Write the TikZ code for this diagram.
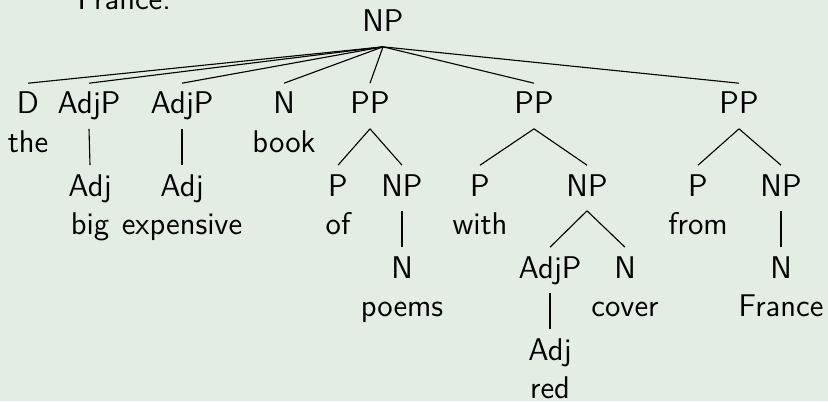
\documentclass[tikz,border=0pt]{standalone}
\usepackage{fontspec}
\definecolor{bgc}{RGB}{228,237,228}
\begin{document}
\begin{tikzpicture}[x=0.35714pt,y=-0.35714pt,
  every node/.style={font=\fontsize{11.2}{13.6}\selectfont\sffamily, inner sep=0pt},
  cat/.style={anchor=base, text height=10.8pt, text depth=5.1pt},
  word/.style={anchor=base},
  edge/.style={draw=black, line width=0.4pt}]
\useasboundingbox[fill=bgc] (0,0) rectangle (828,401);
% clipped caption fragment
\node[anchor=base west] (cap) at (77,10) {France.};
% root
\node[cat] (root) at (383,32) {NP};
% row 1
\node[cat] (d) at (28,114) {D};
\node[word] (wthe) at (28,152) {the};
\node[cat] (adjp1) at (89,114) {AdjP};
\node[cat] (adjp2) at (182,114) {AdjP};
\node[cat] (n1) at (284,114) {N};
\node[word] (wbook) at (284,152) {book};
\node[cat] (pp1) at (370,114) {PP};
\node[cat] (pp2) at (534,114) {PP};
\node[cat] (pp3) at (739,114) {PP};
% row 2
\node[cat] (adj1) at (90,196) {Adj};
\node[word] (wbig) at (90,234) {big};
\node[cat] (adj2) at (182,196) {Adj};
\node[word] (wexp) at (182,234) {expensive};
\node[cat] (p1) at (338,196) {P};
\node[word] (wof) at (338,234) {of};
\node[cat] (np1) at (402,196) {NP};
\node[cat] (p2) at (480,196) {P};
\node[word] (wwith) at (480,234) {with};
\node[cat] (np2) at (587,196) {NP};
\node[cat] (p3) at (698,196) {P};
\node[word] (wfrom) at (698,234) {from};
\node[cat] (np3) at (781,196) {NP};
% row 3
\node[cat] (n2) at (402,278) {N};
\node[word] (wpoems) at (402,316) {poems};
\node[cat] (adjp3) at (550,278) {AdjP};
\node[cat] (n3) at (625,278) {N};
\node[word] (wcover) at (625,316) {cover};
\node[cat] (n4) at (781,278) {N};
\node[word] (wfrance) at (781,316) {France};
% row 4
\node[cat] (adj3) at (550,360) {Adj};
\node[word] (wred) at (550,398) {red};
% edges
\foreach \c in {d,adjp1,adjp2,n1,pp1,pp2,pp3}
  \draw[edge] (root.south) -- (\c.north);
\draw[edge] (adjp1.south) -- (adj1.north);
\draw[edge] (adjp2.south) -- (adj2.north);
\draw[edge] (pp1.south) -- (p1.north);
\draw[edge] (pp1.south) -- (np1.north);
\draw[edge] (pp2.south) -- (p2.north);
\draw[edge] (pp2.south) -- (np2.north);
\draw[edge] (pp3.south) -- (p3.north);
\draw[edge] (pp3.south) -- (np3.north);
\draw[edge] (np1.south) -- (n2.north);
\draw[edge] (np2.south) -- (adjp3.north);
\draw[edge] (np2.south) -- (n3.north);
\draw[edge] (np3.south) -- (n4.north);
\draw[edge] (adjp3.south) -- (adj3.north);
\end{tikzpicture}
\end{document}
